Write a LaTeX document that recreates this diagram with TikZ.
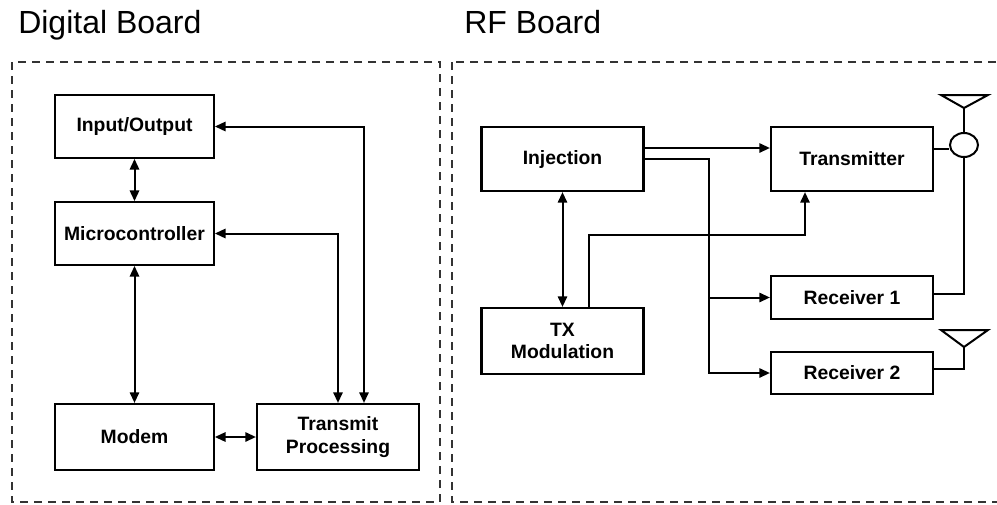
\documentclass[tikz,border=0pt]{standalone}
\usepackage{fontspec}
\setmainfont{Liberation Sans}
\usetikzlibrary{arrows.meta,calc,shapes.geometric}

\tikzset{
  blk/.style={draw,line width=1.6pt,minimum width=119pt,minimum height=47pt,inner sep=2pt,
    align=center,font=\bfseries\fontsize{14.5}{17}\selectfont},
  wide/.style={minimum width=121.5pt},
  link/.style={line width=1.5pt},
  board/.style={draw=black!80,line width=1.1pt,dash pattern=on 6pt off 4.5pt},
  title/.style={anchor=base west,inner sep=0pt,font=\fontsize{24}{27}\selectfont}
}

\begin{document}
\begin{tikzpicture}[x=0.75pt,y=-0.75pt,>={Triangle[length=8pt,width=7pt]}]
    \useasboundingbox (0,0) rectangle (997,504);

    % Boards
    \node[title] (dtitle) at (18,33) {Digital Board};
    \node[title] (rftitle) at (464,33) {RF Board};
    \draw[board] (12,62) rectangle (440,502);
    \draw[board] (452,62) rectangle (1012,502);

    % Digital board
    \node[blk] (io) at (134.5,126.5) {Input/Output};
    \node[blk] (mcu) at (134.5,233.5) {Microcontroller};
    \node[blk,minimum height=49.5pt] (modem) at (134.5,437) {Modem};
    \node[blk,wide,minimum height=49.5pt] (tp) at (338,437) {Transmit\\Processing};

    \draw[link,<->] (io.south) -- (mcu.north);
    \draw[link,<->] (mcu.south) -- (modem.north);
    \draw[link,<->] (modem.east) -- (tp.west);
    \draw[link,<->] (io.east) -| ($(tp.north)+(26,0)$);
    \draw[link,<->] (mcu.east) -| (tp.north);

    % RF board
    \node[blk,wide,minimum height=48pt] (inj) at (562.5,159) {Injection};
    \node[blk,wide,minimum height=48pt] (tx) at (852,159) {Transmitter};
    \node[blk,wide,minimum height=49.5pt] (txm) at (562.5,341) {TX\\Modulation};
    \node[blk,wide,minimum height=32pt] (rx1) at (852,297.5) {Receiver 1};
    \node[blk,wide,minimum height=31.5pt] (rx2) at (852,373) {Receiver 2};
    \node[draw,ellipse,line width=1.5pt,minimum width=21pt,minimum height=18pt,inner sep=0pt] (cpl) at (964,145) {};

    \draw[link,->] ($(inj.east)+(0,-11)$) -- ($(tx.west)+(0,-11)$);
    \coordinate (bus) at (709,159);
    \draw[link,->] (inj.east) -- (bus) |- (rx2.west);
    \draw[link,->] (bus |- rx1.west) -- (rx1.west);
    \draw[link,<->] (inj.south) -- (txm.north);
    \draw[link,->] ($(txm.north)+(26.5,0)$) |- ($(tx.south)+(-47,43)$) -- ($(tx.south)+(-47,0)$);

    % Antennas
    \coordinate (ant1) at (964,108);
    \coordinate (ant2) at (964,347);
    \draw[link] (ant1) -- ++(-23,-13) -- ++(47,0) -- cycle;
    \draw[link] (ant2) -- ++(-23,-17) -- ++(47,0) -- cycle;
    \draw[link] (ant1) -- (cpl.north);
    \draw[link] ($(tx.east)+(0,-10)$) coordinate (t1) -- (t1 -| cpl.west);
    \draw[link] (cpl.south) |- ($(rx1.east)+(0,-4)$);
    \draw[link] (ant2) |- ($(rx2.east)+(0,-4)$);
\end{tikzpicture}
\end{document}
